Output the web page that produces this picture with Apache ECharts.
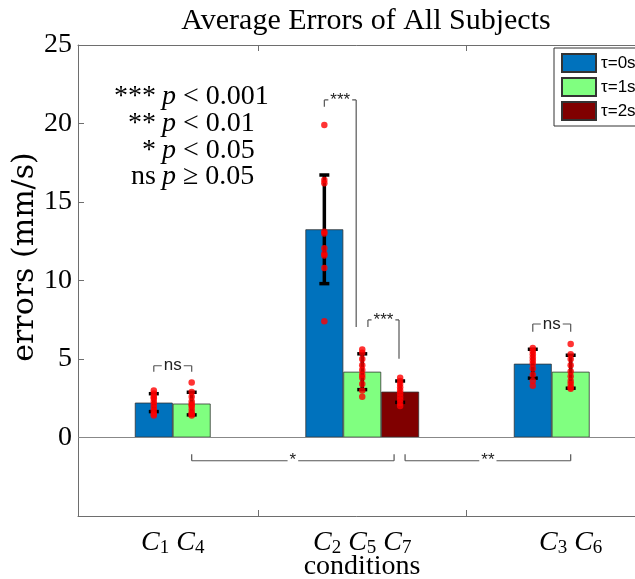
<!DOCTYPE html>
<html>
<head>
<meta charset="utf-8">
<script src="https://cdn.jsdelivr.net/npm/echarts@6/dist/echarts.min.js"></script>
<style>
  html, body { margin: 0; padding: 0; background: #fff; }
  #chart { width: 635px; height: 579px; }
</style>
</head>
<body>
<div id="chart"></div>
<script>
// ---- data ----
const seriesNames = ['τ=0s', 'τ=1s', 'τ=2s'];
const groupX = [3.0, 7.5, 13.0];            // x of the middle (τ=1s) slot in each group
const groupConditions = [['1', '4'], ['2', '5', '7'], ['3', '6']];
const labelX = [2.5, 7.5, 13.0];
const tickX = [4.75, 10.25];

const meanTau0 = [2.22, 13.26, 4.70];
const meanTau1 = [2.16, 4.19, 4.19];
const meanTau2 = [0, 2.92, 0];

const sdTau0 = [0.57, 3.46, 0.92];
const sdTau1 = [0.72, 1.14, 1.05];
const sdTau2 = [0, 0.68, 0];

const subjTau0 = [
  [3.0, 2.8, 2.6, 2.5, 2.3, 2.1, 1.9, 1.7, 1.5, 1.4],
  [19.9, 16.4, 16.2, 13.1, 13.0, 12.05, 11.7, 11.6, 10.8, 7.4],
  [5.7, 5.5, 5.3, 5.1, 4.9, 4.7, 4.4, 4.0, 3.6, 3.3]
];
const subjTau1 = [
  [3.5, 2.9, 2.6, 2.3, 2.1, 2.0, 1.8, 1.6, 1.5, 1.4],
  [5.6, 5.4, 5.0, 4.6, 4.3, 4.0, 3.8, 3.4, 3.0, 2.6],
  [5.95, 5.3, 5.0, 4.6, 4.2, 3.9, 3.6, 3.4, 3.2, 3.1]
];
const subjTau2 = [
  [],
  [3.8, 3.6, 3.4, 3.2, 3.0, 2.8, 2.6, 2.4, 2.2, 2.0],
  []
];

// significance brackets: label, x1, x2, y, left end y, right end y
const brackets = [
  ['ns', 2.0, 3.0, 4.57, 4.19, 4.19],
  ['***', 6.5, 7.34, 21.5, 21.07, 7.04],
  ['***', 7.65, 8.47, 7.49, 7.04, 5.01],
  ['ns', 12.0, 13.0, 7.23, 6.73, 6.73],
  ['*', 3.0, 8.34, -1.48, -1.06, -1.06],
  ['**', 8.63, 13.0, -1.48, -1.06, -1.06]
];

const pLegendLeft = ['***', '**', '*', 'ns'];
const pLegendRight = ['< 0.001', '< 0.01', '< 0.05', '≥ 0.05'];

// ---- layout ----
const W = 635, H = 579;
const gridLeft = 78, gridRight = -13, gridTop = 45, gridBottom = 63;
const xMin = 0, xMax = 15.04;
const slotPx = (W - gridLeft - gridRight) / (xMax - xMin);
const colors = ['#0072BD', '#80FF80', '#800000'];
const serif = 'Liberation Serif';
const axisColor = '#6e6e6e';

const means = [meanTau0, meanTau1, meanTau2];
const sds = [sdTau0, sdTau1, sdTau2];
const subj = [subjTau0, subjTau1, subjTau2];

const barSeries = means.map((m, s) => ({
  name: seriesNames[s],
  type: 'bar',
  barWidth: slotPx,
  barGap: '-100%',
  z: 2,
  itemStyle: { color: colors[s], borderColor: '#333', borderWidth: 0.8 },
  data: m.map((v, g) => [groupX[g] + (s - 1), v]),
  markLine: s === 0 ? {
    silent: true, symbol: 'none', label: { show: false },
    lineStyle: { color: '#888', width: 1, type: 'solid' },
    data: [{ yAxis: 0 }]
  } : undefined
}));

const errData = [];
const dotData = [];
means.forEach((m, s) => {
  m.forEach((v, g) => {
    const x = groupX[g] + (s - 1);
    if (sds[s][g] > 0) errData.push([x, v - sds[s][g], v + sds[s][g]]);
    subj[s][g].forEach(p => dotData.push([x, p]));
  });
});

const chart = echarts.init(document.getElementById('chart'));

const option = {
  animation: false,
  backgroundColor: '#fff',
  grid: {
    left: gridLeft, right: gridRight, top: gridTop, bottom: gridBottom,
    outerBoundsMode: 'none'
  },
  legend: {
    data: seriesNames,
    orient: 'vertical',
    left: 554, top: 48,
    itemWidth: 34, itemHeight: 18, itemGap: 4,
    padding: [5, 6, 5, 7],
    borderColor: '#333', borderWidth: 1,
    backgroundColor: '#fff',
    icon: 'rect',
    textStyle: { fontFamily: 'Liberation Sans', fontSize: 17, lineHeight: 18, color: '#000' }
  },
  xAxis: [{
    type: 'value', min: xMin, max: xMax, position: 'bottom',
    splitLine: { show: false },
    axisLine: { onZero: false, lineStyle: { color: axisColor } },
    axisTick: { inside: true, length: 6, customValues: tickX, lineStyle: { color: axisColor } },
    axisLabel: {
      customValues: labelX, margin: 12, color: '#000',
      formatter: (v) => {
        const i = labelX.indexOf(v);
        if (i < 0) return '';
        return groupConditions[i].map(c => '{c|C}{s|' + c + '}').join('{c| }');
      },
      rich: {
        c: { fontFamily: serif, fontStyle: 'italic', fontSize: 28, lineHeight: 30, color: '#000' },
        s: { fontFamily: serif, fontSize: 19, lineHeight: 12, verticalAlign: 'bottom', color: '#000' }
      }
    }
  }, {
    type: 'value', min: xMin, max: xMax, position: 'top',
    splitLine: { show: false },
    axisLine: { onZero: false, lineStyle: { color: axisColor } },
    axisTick: { inside: true, length: 6, customValues: tickX, lineStyle: { color: axisColor } },
    axisLabel: { show: false }
  }],
  yAxis: {
    type: 'value', min: -5, max: 25, interval: 5,
    splitLine: { show: false },
    axisLine: { show: true, onZero: false, lineStyle: { color: axisColor } },
    axisTick: { inside: true, length: 6, lineStyle: { color: axisColor } },
    axisLabel: {
      margin: 6, color: '#000', fontFamily: serif, fontSize: 28,
      formatter: (v) => (v < 0 ? '' : String(v))
    }
  },
  graphic: [
    {
      type: 'text', x: 366, y: 21,
      style: { text: 'Average Errors of All Subjects', font: '30px "' + serif + '"', fill: '#000', align: 'center', verticalAlign: 'middle' }
    },
    {
      type: 'text', x: 362, y: 567,
      style: { text: 'conditions', font: '28px "' + serif + '"', fill: '#000', align: 'center', verticalAlign: 'middle' }
    },
    {
      type: 'text', x: 25, y: 257, rotation: Math.PI / 2,
      style: { text: 'errors (mm/s)', font: '30px "DejaVu Serif"', fill: '#000', align: 'center', verticalAlign: 'middle' }
    },
    ...pLegendLeft.map((t, i) => ({
      type: 'text', x: 156, y: 97 + i * 26.7,
      style: { text: t, font: '28px "' + serif + '"', fill: '#000', align: 'right', verticalAlign: 'middle' }
    })),
    ...pLegendRight.map((t, i) => ({
      type: 'text', x: 162, y: 97 + i * 26.7,
      style: {
        text: '{i|p} ' + t, fill: '#000', align: 'left', verticalAlign: 'middle',
        font: '28px "' + serif + '"',
        rich: { i: { fontFamily: serif, fontStyle: 'italic', fontSize: 28 } }
      }
    }))
  ],
  series: [
    ...barSeries,
    {
      type: 'custom', name: 'errorbars', z: 3, silent: true,
      encode: { x: 0, y: [1, 2] },
      data: errData,
      renderItem: (params, api) => {
        const x = api.value(0);
        const lo = api.coord([x, api.value(1)]);
        const hi = api.coord([x, api.value(2)]);
        const cap = 5;
        const st = { stroke: '#000', lineWidth: 3.5 };
        return {
          type: 'group',
          children: [
            { type: 'line', shape: { x1: lo[0], y1: lo[1], x2: hi[0], y2: hi[1] }, style: st },
            { type: 'line', shape: { x1: lo[0] - cap, y1: lo[1], x2: lo[0] + cap, y2: lo[1] }, style: st },
            { type: 'line', shape: { x1: hi[0] - cap, y1: hi[1], x2: hi[0] + cap, y2: hi[1] }, style: st }
          ]
        };
      }
    },
    {
      type: 'scatter', name: 'subjects', z: 4, silent: true,
      symbolSize: 6.5,
      itemStyle: { color: '#ff0000' },
      data: dotData
    },
    {
      type: 'custom', name: 'brackets', z: 5, silent: true,
      encode: { x: [0, 1], y: [2, 3, 4] },
      data: brackets.map(b => b.slice(1)),
      renderItem: (params, api) => {
        const b = brackets[params.dataIndex];
        const pl = api.coord([b[1], b[3]]);
        const pr = api.coord([b[2], b[3]]);
        const el = api.coord([b[1], b[4]]);
        const er = api.coord([b[2], b[5]]);
        const st = { stroke: '#555', lineWidth: 1.2 };
        return {
          type: 'group',
          children: [
            { type: 'line', shape: { x1: pl[0], y1: pl[1], x2: pr[0], y2: pr[1] }, style: st },
            { type: 'line', shape: { x1: pl[0], y1: pl[1], x2: el[0], y2: el[1] }, style: st },
            { type: 'line', shape: { x1: pr[0], y1: pr[1], x2: er[0], y2: er[1] }, style: st },
            {
              type: 'text', x: (pl[0] + pr[0]) / 2, y: pl[1],
              style: {
                text: b[0], fill: '#222', align: 'center', verticalAlign: 'middle',
                font: '17px "Liberation Sans"', backgroundColor: '#fff', padding: [0, 2]
              }
            }
          ]
        };
      }
    }
  ]
};

chart.setOption(option);
</script>
</body>
</html>
